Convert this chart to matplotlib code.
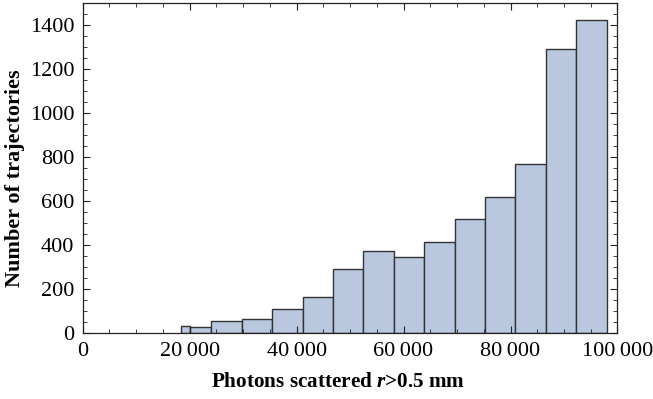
import matplotlib
matplotlib.use('Agg')
import matplotlib.pyplot as plt
from matplotlib.ticker import MultipleLocator, FuncFormatter

# bin edges (left, right) and counts per bin
bin_left = [18380, 20000, 24066, 29752, 35438, 41124, 46810, 52496,
            58182, 63868, 69554, 75240, 80926, 86612, 92298]
bin_right = [20000, 24066, 29752, 35438, 41124, 46810, 52496, 58182,
             63868, 69554, 75240, 80926, 86612, 92298, 97984]
counts = [31, 28, 56, 66, 112, 163, 293, 375, 348, 413, 519, 618, 766, 1290, 1420]

plt.rcParams['font.family'] = ['Liberation Serif', 'DejaVu Serif']
plt.rcParams['mathtext.fontset'] = 'custom'
plt.rcParams['mathtext.bfit'] = 'Liberation Serif:bold:italic'

fig = plt.figure(figsize=(6.53, 3.99), dpi=100)
ax = fig.add_axes([0.1266, 0.1647, 0.9456 - 0.1266, 0.9932 - 0.1647])

widths = [r - l for l, r in zip(bin_left, bin_right)]
ax.bar(bin_left, counts, width=widths, align='edge',
       color='#b9c8df', edgecolor='#333333', linewidth=1.0)

ax.set_xlim(0, 100000)
ax.set_ylim(0, 1500)

ax.xaxis.set_major_locator(MultipleLocator(20000))
ax.xaxis.set_minor_locator(MultipleLocator(5000))
ax.yaxis.set_major_locator(MultipleLocator(200))
ax.yaxis.set_minor_locator(MultipleLocator(50))
ax.xaxis.set_major_formatter(FuncFormatter(
    lambda v, p: f'{int(v):,}'.replace(',', '\u2009')))

ax.tick_params(which='both', direction='in', top=True, right=True,
               labelsize=16, colors='#222222', labelcolor='black')
ax.tick_params(which='major', length=5, width=0.8, pad=6)
ax.tick_params(which='minor', length=3, width=0.6)
for s in ax.spines.values():
    s.set_linewidth(0.9)
    s.set_color('#222222')

ax.set_xlabel(r'Photons scattered $\boldsymbol{r}$>0.5 mm', fontsize=15.2,
              fontweight='bold')
ax.set_ylabel('Number of trajectories', fontsize=16, fontweight='bold')
ax.xaxis.set_label_coords(0.477, -0.118)
ax.yaxis.set_label_coords(-0.108, 0.468)

fig.savefig('out.png', dpi=100)
